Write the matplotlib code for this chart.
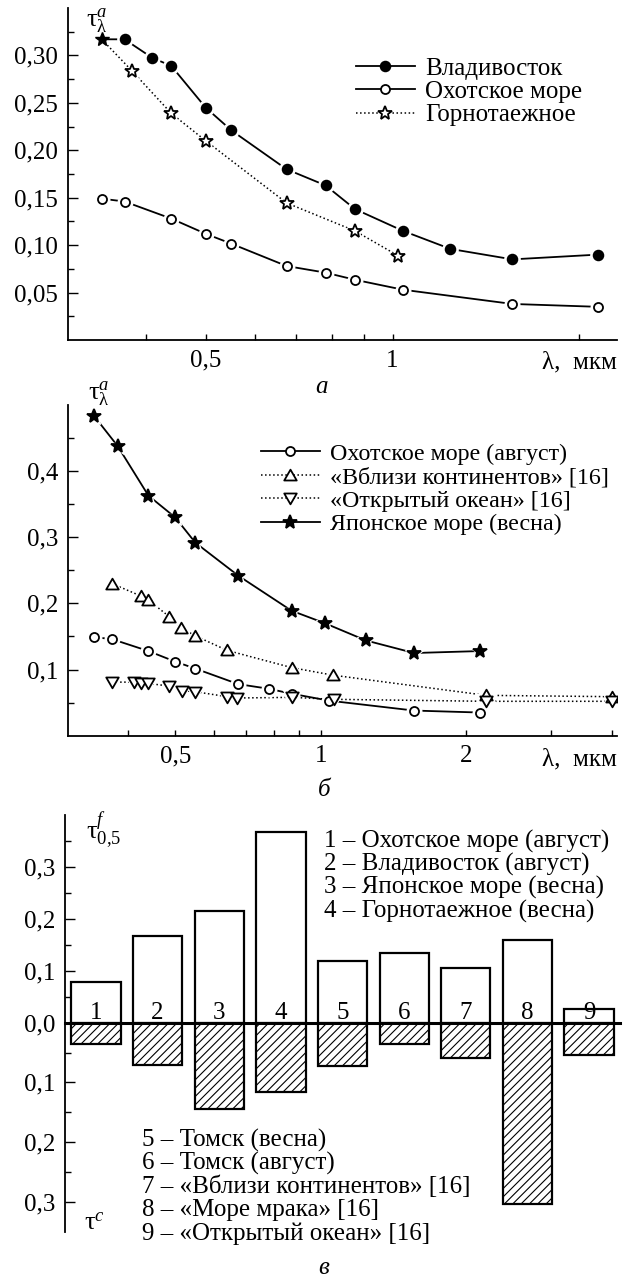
import numpy as np
import matplotlib
matplotlib.use('Agg')
import matplotlib.pyplot as plt
from matplotlib.ticker import FixedLocator, FuncFormatter, NullFormatter
from matplotlib.lines import Line2D
from matplotlib.path import Path

plt.rcParams['font.family'] = ['Liberation Serif', 'DejaVu Serif']
plt.rcParams['mathtext.fontset'] = 'custom'
plt.rcParams['mathtext.rm'] = 'Liberation Serif'
plt.rcParams['mathtext.it'] = 'Liberation Serif:italic'
plt.rcParams['hatch.linewidth'] = 0.8

# --- панель а ---
lam_vl = [0.34, 0.37, 0.41, 0.44, 0.50, 0.55, 0.675, 0.78, 0.87, 1.04, 1.24, 1.56, 2.14]
tau_vl = [0.317, 0.317, 0.2975, 0.289, 0.245, 0.221, 0.180, 0.163, 0.138, 0.115, 0.096, 0.085, 0.090]
lam_ox = [0.34, 0.37, 0.44, 0.50, 0.55, 0.675, 0.78, 0.87, 1.04, 1.56, 2.14]
tau_ox = [0.149, 0.146, 0.128, 0.112, 0.1015, 0.078, 0.071, 0.0635, 0.053, 0.038, 0.035]
lam_gt = [0.34, 0.38, 0.44, 0.50, 0.675, 0.87, 1.02]
tau_gt = [0.317, 0.284, 0.239, 0.210, 0.1445, 0.115, 0.089]

# --- панель б ---
lam_jp = [0.34, 0.38, 0.44, 0.50, 0.55, 0.675, 0.87, 1.02, 1.24, 1.56, 2.14]
tau_jp = [0.483, 0.438, 0.363, 0.330, 0.292, 0.242, 0.189, 0.170, 0.144, 0.125, 0.128]
lam_cont = [0.37, 0.425, 0.44, 0.486, 0.514, 0.55, 0.64, 0.87, 1.06, 2.2, 4.0]
tau_cont = [0.230, 0.211, 0.205, 0.180, 0.163, 0.151, 0.129, 0.103, 0.0915, 0.061, 0.059]
lam_oc = [0.37, 0.41, 0.425, 0.44, 0.486, 0.516, 0.55, 0.64, 0.672, 0.87, 1.066, 2.2, 4.0]
tau_oc = [0.081, 0.081, 0.079, 0.079, 0.075, 0.068, 0.0665, 0.059, 0.057, 0.058, 0.055, 0.052, 0.052]

# --- панель в ---
bar_ids = [1, 2, 3, 4, 5, 6, 7, 8, 9]
tau_f = [0.078, 0.167, 0.215, 0.368, 0.118, 0.134, 0.105, 0.160, 0.026]
tau_c = [0.035, 0.070, 0.145, 0.116, 0.073, 0.035, 0.059, 0.303, 0.054]
names_top = ['1 \u2013 Охотское море (август)', '2 \u2013 Владивосток (август)',
             '3 \u2013 Японское море (весна)', '4 \u2013 Горнотаежное (весна)']
names_bot = ['5 \u2013 Томск (весна)', '6 \u2013 Томск (август)',
             '7 \u2013 «Вблизи континентов» [16]', '8 \u2013 «Море мрака» [16]',
             '9 \u2013 «Открытый океан» [16]']

W, H = 630, 1280
FS = 18
fig = plt.figure(figsize=(W / 100, H / 100), dpi=100)


def box(l, t, r, b):
    return [l / W, 1 - b / H, (r - l) / W, (b - t) / H]


def ftext(x, y, s, **kw):
    kw.setdefault('fontsize', FS)
    fig.text(x / W, 1 - y / H, s, **kw)


def comma(fmt):
    return FuncFormatter(lambda v, p: fmt.format(v).replace('.', ','))


def style(ax):
    for s in ['top', 'right']:
        ax.spines[s].set_visible(False)
    for s in ['left', 'bottom']:
        ax.spines[s].set_linewidth(1.3)
    ax.tick_params(which='both', direction='in', width=1.0, labelsize=FS, pad=7)
    ax.tick_params(axis='y', which='major', length=7)
    ax.tick_params(axis='y', which='minor', length=4)
    ax.tick_params(axis='x', which='both', length=4)


tri_up = Path([(-1, -0.8), (1, -0.8), (0, 0.93), (-1, -0.8)], closed=True)
tri_dn = Path([(-1, 0.8), (1, 0.8), (0, -0.93), (-1, 0.8)], closed=True)


def curve(ax, x, y, ls, marker, face, ms, lw=1.3, every=None):
    ax.plot(x, y, ls=ls, color='k', lw=lw, zorder=2)
    ax.plot(x, y, ls='none', marker=marker, ms=ms + 4, mfc='w', mec='w', zorder=3, markevery=every)
    ax.plot(x, y, ls='none', marker=marker, ms=ms, mfc=face, mec='k', mew=1.3, zorder=4, markevery=every)


def h(ls, marker, face, ms, lw=1.3):
    return Line2D([], [], ls=ls, color='k', lw=lw, marker=marker, ms=ms, mfc=face, mec='k', mew=1.3)


# ---------- а ----------
ax = fig.add_axes(box(68, 8, 617, 340))
style(ax)
curve(ax, lam_vl, tau_vl, '-', 'o', 'k', 7, every=slice(1, None))
curve(ax, lam_ox, tau_ox, '-', 'o', 'w', 6.5)
curve(ax, lam_gt, tau_gt, ':', '*', 'w', 10, lw=1.1, every=slice(1, None))
ax.plot(lam_gt[:1], tau_gt[:1], ls='none', marker='*', ms=10, mfc='k', mec='k', zorder=5)
ax.set_xscale('log')
ax.set_xlim(0.3, 2.3)
ax.set_ylim(0, 0.35)
ax.xaxis.set_major_locator(FixedLocator([0.5, 1]))
ax.xaxis.set_minor_locator(FixedLocator([0.4, 0.6, 0.7, 0.8, 0.9, 2]))
ax.xaxis.set_major_formatter(FuncFormatter(lambda v, p: ('%g' % v).replace('.', ',')))
ax.xaxis.set_minor_formatter(NullFormatter())
ax.yaxis.set_major_locator(FixedLocator([0.05, 0.10, 0.15, 0.20, 0.25, 0.30]))
ax.yaxis.set_minor_locator(FixedLocator([0.025, 0.075, 0.125, 0.175, 0.225, 0.275, 0.325]))
ax.yaxis.set_major_formatter(comma('{:.2f}'))
ax.legend([h('-', 'o', 'k', 7), h('-', 'o', 'w', 6.5), h(':', '*', 'w', 10, 1.1)],
          ['Владивосток', 'Охотское море', 'Горнотаежное'],
          loc='upper left', bbox_to_anchor=((356 - 68) / 549, (340 - 57.5) / 332),
          frameon=False, fontsize=FS, handlelength=2.35, handletextpad=0.4,
          labelspacing=0.025, borderpad=0, borderaxespad=0)
ftext(86, 27, r'$\mathrm{\tau}^{a}_{\mathrm{\lambda}}$', ha='left', va='baseline', fontsize=19)
ftext(617, 362, 'λ,  мкм', ha='right', va='center')
ftext(322, 387, 'а', ha='center', va='center', style='italic')

# ---------- б ----------
ax = fig.add_axes(box(68, 405, 617, 735.7))
style(ax)
curve(ax, lam_ox, tau_ox, '-', 'o', 'w', 6.5)
curve(ax, lam_cont, tau_cont, ':', tri_up, 'w', 9, lw=1.1)
curve(ax, lam_oc, tau_oc, ':', tri_dn, 'w', 9, lw=1.1)
curve(ax, lam_jp, tau_jp, '-', '*', 'k', 10)
ax.set_xscale('log')
ax.set_xlim(0.3, 4.1)
ax.set_ylim(0, 0.5)
ax.xaxis.set_major_locator(FixedLocator([0.5, 1, 2]))
ax.xaxis.set_minor_locator(FixedLocator([0.4, 0.6, 0.7, 0.8, 0.9, 3, 4]))
ax.xaxis.set_major_formatter(FuncFormatter(lambda v, p: ('%g' % v).replace('.', ',')))
ax.xaxis.set_minor_formatter(NullFormatter())
ax.yaxis.set_major_locator(FixedLocator([0.1, 0.2, 0.3, 0.4]))
ax.yaxis.set_minor_locator(FixedLocator([0.05, 0.15, 0.25, 0.35, 0.45]))
ax.yaxis.set_major_formatter(comma('{:.1f}'))
ax.legend([h('-', 'o', 'w', 6.5), h(':', tri_up, 'w', 9, 1.1),
           h(':', tri_dn, 'w', 9, 1.1), h('-', '*', 'k', 10)],
          ['Охотское море (август)', '«Вблизи континентов» [16]',
           '«Открытый океан» [16]', 'Японское море (весна)'],
          loc='upper left', bbox_to_anchor=((261 - 68) / 549, (735.7 - 443) / 330.7),
          frameon=False, fontsize=17.3, handlelength=2.45, handletextpad=0.42,
          labelspacing=0.07, borderpad=0, borderaxespad=0)
ftext(88, 400, r'$\mathrm{\tau}^{a}_{\mathrm{\lambda}}$', ha='left', va='baseline', fontsize=19)
ftext(617, 759, 'λ,  мкм', ha='right', va='center')
ftext(324, 790, 'б', ha='center', va='center', style='italic')

# ---------- в ----------
ax_t = fig.add_axes(box(65, 815, 620, 1022.7))
ax_b = fig.add_axes(box(65, 1022.7, 620, 1231.7))
ax_t.set_zorder(3)
ax_t.patch.set_visible(False)
ax_t.bar(bar_ids, tau_f, width=0.8, facecolor='w', edgecolor='k', lw=1.6)
ax_b.bar(bar_ids, tau_c, width=0.8, facecolor='w', edgecolor='k', lw=1.6, hatch='////')
for a in (ax_t, ax_b):
    style(a)
    a.set_xlim(0.5, 9.5)
    a.set_xticks([])
ax_t.spines['bottom'].set_linewidth(2.2)
ax_b.spines['bottom'].set_visible(False)
ax_t.set_ylim(0, 0.4)
ax_b.set_ylim(0.35, 0)
ax_t.yaxis.set_major_locator(FixedLocator([0.0, 0.1, 0.2, 0.3]))
ax_t.yaxis.set_minor_locator(FixedLocator([0.05, 0.15, 0.25, 0.35]))
ax_b.yaxis.set_major_locator(FixedLocator([0.1, 0.2, 0.3]))
ax_b.yaxis.set_minor_locator(FixedLocator([0.05, 0.15, 0.25]))
ax_t.yaxis.set_major_formatter(comma('{:.1f}'))
ax_b.yaxis.set_major_formatter(comma('{:.1f}'))
for i in bar_ids:
    ax_t.text(i, 0.007, str(i), ha='center', va='baseline', fontsize=FS)

for k, s in enumerate(names_top):
    ftext(324, 841 + 23.4 * k, s, ha='left', va='center')
for k, s in enumerate(names_bot):
    ftext(142, 1140 + 23.4 * k, s, ha='left', va='center')
ftext(86, 839, r'$\mathrm{\tau}^{f}_{0{,}5}$', ha='left', va='baseline', fontsize=19)
ftext(84, 1229, r'$\mathrm{\tau}^{c}$', ha='left', va='baseline', fontsize=19)
ftext(324, 1274, 'в', ha='center', va='baseline', style='italic')

fig.savefig('out.png', dpi=100)
